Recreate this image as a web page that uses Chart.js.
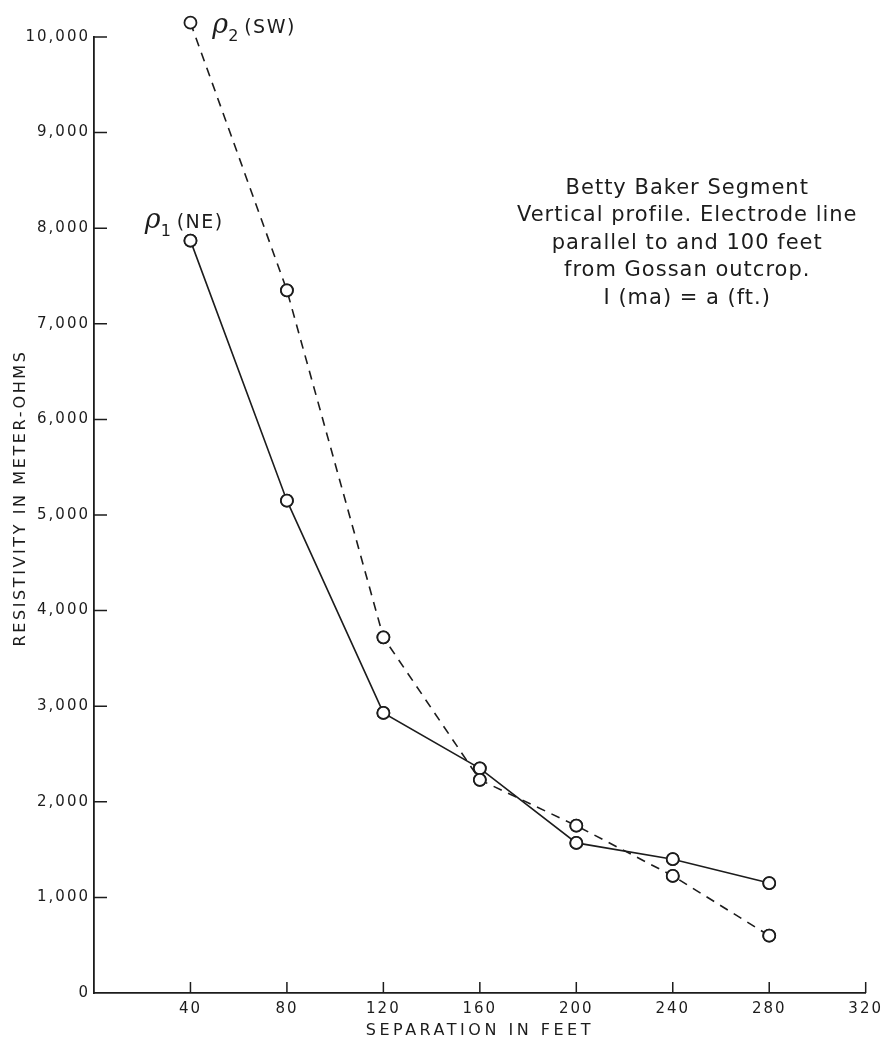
<!DOCTYPE html>
<html>

<head>
  <title>Betty Baker Segment</title>
  <script src="https://cdn.jsdelivr.net/npm/chart.js"></script>
  <style>
    body { margin: 0; background: #fff; }
  </style>
</head>

<body>
  <canvas id="resChart" width="887" height="1044"></canvas>
  <script>
    // values (feet, meter-ohms)
    const separation = [40, 80, 120, 160, 200, 240, 280];
    const rho1NE = [7870, 5150, 2930, 2350, 1570, 1400, 1150];
    const rho2SW = [10150, 7350, 3720, 2230, 1750, 1225, 600];
    const xTicks = [0, 40, 80, 120, 160, 200, 240, 280, 320];
    const yTicks = [0, 1000, 2000, 3000, 4000, 5000, 6000, 7000, 8000, 9000, 10000];
    const noteLines = [
      'Betty Baker Segment',
      'Vertical profile. Electrode line',
      'parallel to and 100 feet',
      'from Gossan outcrop.',
      'I (ma) = a (ft.)'
    ];
    const xTitle = 'SEPARATION IN FEET';
    const yTitle = 'RESISTIVITY IN METER-OHMS';

    const ink = '#1c1c1c';
    const toPoints = vals => vals.map((v, i) => ({ x: separation[i], y: v }));

    // short tick marks on the inside of the axes
    const innerTicks = {
      id: 'innerTicks',
      beforeDatasetsDraw(chart) {
        const { ctx, chartArea, scales: { x, y } } = chart;
        ctx.save();
        ctx.strokeStyle = ink;
        ctx.lineWidth = 1.5;
        ctx.beginPath();
        x.ticks.forEach(t => {
          if (t.value === 0) return;
          const px = x.getPixelForValue(t.value);
          ctx.moveTo(px, chartArea.bottom);
          ctx.lineTo(px, chartArea.bottom - 11);
        });
        y.ticks.forEach(t => {
          if (t.value === 0) return;
          const py = y.getPixelForValue(t.value);
          ctx.moveTo(chartArea.left, py);
          ctx.lineTo(chartArea.left + 13, py);
        });
        ctx.stroke();
        ctx.restore();
      },
      // the first SW reading sits above the 10,000 line, draw the circles without clipping
      afterDatasetsDraw(chart) {
        const full = { left: 0, top: 0, right: chart.width, bottom: chart.height };
        chart.data.datasets.forEach((ds, i) => {
          chart.getDatasetMeta(i).data.forEach(p => p.draw(chart.ctx, full));
        });
      }
    };

    // lettering: axis titles, curve labels and the note block
    const lettering = {
      id: 'lettering',
      beforeDraw(chart) {
        chart.ctx.letterSpacing = '2px';
      },
      afterDraw(chart) {
        const { ctx, chartArea, scales: { x, y } } = chart;
        ctx.save();
        ctx.fillStyle = ink;

        // axis titles
        ctx.font = '16px "DejaVu Sans"';
        ctx.letterSpacing = '3.5px';
        ctx.textAlign = 'center';
        ctx.textBaseline = 'middle';
        ctx.fillText(xTitle, (chartArea.left + chartArea.right) / 2, 1031);
        ctx.save();
        ctx.translate(21, 498);
        ctx.rotate(-Math.PI / 2);
        ctx.letterSpacing = '2.6px';
        ctx.fillText(yTitle, 0, 0);
        ctx.restore();

        // note block
        ctx.font = '21px "DejaVu Sans"';
        ctx.letterSpacing = '1px';
        ctx.textBaseline = 'alphabetic';
        const nx = x.getPixelForValue(246);
        const ny = y.getPixelForValue(8360);
        noteLines.forEach((t, i) => ctx.fillText(t, nx, ny + i * 27.5));

        // curve labels
        const curveLabel = (sub, tag, xv, yv) => {
          const px = x.getPixelForValue(xv);
          const py = y.getPixelForValue(yv);
          ctx.textAlign = 'left';
          ctx.letterSpacing = '0px';
          ctx.font = 'italic 27px "DejaVu Serif"';
          ctx.fillText('\u03C1', px, py);
          ctx.font = '16px "DejaVu Sans"';
          ctx.fillText(sub, px + 16, py + 8);
          ctx.font = '19px "DejaVu Sans"';
          ctx.letterSpacing = '1.5px';
          ctx.fillText(tag, px + 32, py);
        };
        curveLabel('2', '(SW)', 49, 10040);
        curveLabel('1', '(NE)', 21, 8000);
        ctx.restore();
      }
    };

    const ctx = document.getElementById('resChart').getContext('2d');
    const chart = new Chart(ctx, {
      type: 'line',
      data: {
        datasets: [{
          label: 'rho1 (NE)',
          data: toPoints(rho1NE),
          borderColor: ink,
          borderWidth: 1.6,
          pointRadius: 6,
          pointBorderWidth: 1.8,
          pointBackgroundColor: '#fff',
          pointBorderColor: ink,
          clip: false
        }, {
          label: 'rho2 (SW)',
          data: toPoints(rho2SW),
          borderColor: ink,
          borderWidth: 1.6,
          borderDash: [9, 7],
          pointRadius: 6,
          pointBorderWidth: 1.8,
          pointBackgroundColor: '#fff',
          pointBorderColor: ink,
          clip: false
        }]
      },
      options: {
        responsive: false,
        animation: false,
        layout: { padding: { top: 37, right: 19, left: 0, bottom: 0 } },
        plugins: {
          legend: { display: false },
          tooltip: { enabled: false }
        },
        scales: {
          x: {
            type: 'linear',
            min: 0,
            max: 320,
            afterBuildTicks: scale => { scale.ticks = xTicks.map(v => ({ value: v })); },
            afterFit: scale => { scale.height = 51; },
            grid: { display: true, drawOnChartArea: false, drawTicks: false },
            border: { display: true, color: ink, width: 1.8 },
            ticks: {
              padding: 7,
              color: ink,
              font: { family: 'DejaVu Sans', size: 15 },
              maxRotation: 0,
              callback: value => value === 0 ? '' : value
            }
          },
          y: {
            type: 'linear',
            min: 0,
            max: 10000,
            afterBuildTicks: scale => { scale.ticks = yTicks.map(v => ({ value: v })); },
            afterFit: scale => { scale.width = 94; },
            grid: { display: true, drawOnChartArea: false, drawTicks: false },
            border: { display: true, color: ink, width: 1.8 },
            ticks: {
              padding: 4,
              color: ink,
              font: { family: 'DejaVu Sans', size: 15 },
              callback: value => value.toLocaleString('en-US')
            }
          }
        }
      },
      plugins: [innerTicks, lettering]
    });
  </script>
</body>

</html>
